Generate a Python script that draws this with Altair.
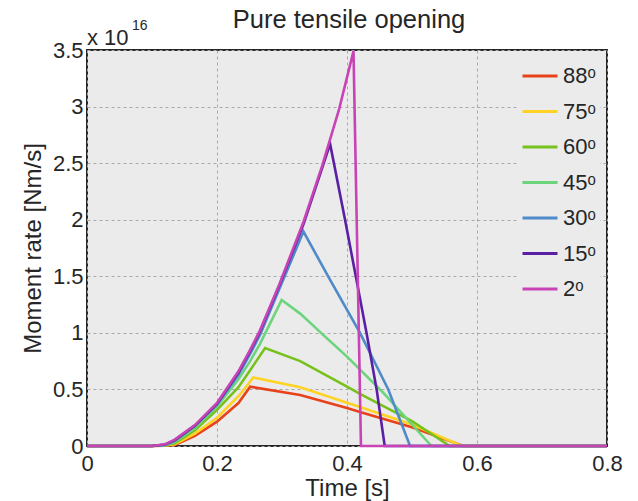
import altair as alt
import pandas as pd

FONT = "Liberation Sans"
TXT = "#262626"

LABELS = ["88ᵒ", "75ᵒ", "60ᵒ", "45ᵒ", "30ᵒ", "15ᵒ", "2ᵒ"]
COLORS = ["#E8421B", "#FFD324", "#77C11D", "#6CD47C", "#4F8AC9", "#5A1FA2", "#C843B5"]

T88 = [0, 0.10, 0.12, 0.135, 0.166, 0.20, 0.233, 0.251, 0.328, 0.40, 0.42, 0.50, 0.579, 0.8]
Y88 = [0, 0, 0.003, 0.01, 0.09, 0.215, 0.38, 0.524, 0.45, 0.335, 0.30, 0.165, 0, 0]

T75 = [0, 0.10, 0.12, 0.135, 0.166, 0.20, 0.233, 0.256, 0.328, 0.40, 0.42, 0.50, 0.577, 0.8]
Y75 = [0, 0, 0.004, 0.015, 0.11, 0.25, 0.44, 0.605, 0.52, 0.383, 0.345, 0.19, 0, 0]

T60 = [0, 0.10, 0.12, 0.135, 0.166, 0.20, 0.233, 0.251, 0.274, 0.328, 0.40, 0.42, 0.50, 0.558, 0.8]
Y60 = [0, 0, 0.006, 0.025, 0.14, 0.32, 0.52, 0.67, 0.866, 0.75, 0.524, 0.46, 0.22, 0, 0]

T45 = [0, 0.10, 0.12, 0.135, 0.166, 0.20, 0.233, 0.251, 0.266, 0.2995, 0.328, 0.36, 0.40, 0.456, 0.53, 0.8]
Y45 = [0, 0, 0.008, 0.035, 0.16, 0.35, 0.59, 0.75, 0.90, 1.29, 1.17, 1.0, 0.79, 0.47, 0, 0]

T30 = [0, 0.10, 0.12, 0.135, 0.166, 0.20, 0.233, 0.251, 0.266, 0.296, 0.333, 0.371, 0.42, 0.4635, 0.497, 0.8]
Y30 = [0, 0, 0.01, 0.045, 0.18, 0.365, 0.63, 0.815, 0.98, 1.39, 1.895, 1.5, 1.0, 0.5, 0, 0]

T15 = [0, 0.10, 0.12, 0.135, 0.166, 0.20, 0.233, 0.251, 0.266, 0.296, 0.333, 0.362, 0.374, 0.397, 0.43, 0.4456, 0.458, 0.8]
Y15 = [0, 0, 0.013, 0.052, 0.18, 0.375, 0.65, 0.84, 1.01, 1.42, 1.96, 2.46, 2.67, 2.0, 1.0, 0.5, 0, 0]

T2 = [0, 0.10, 0.12, 0.135, 0.166, 0.20, 0.233, 0.251, 0.266, 0.296, 0.333, 0.362, 0.388, 0.41, 0.4215, 0.8]
Y2 = [0, 0, 0.015, 0.056, 0.185, 0.38, 0.66, 0.85, 1.02, 1.43, 1.98, 2.48, 2.98, 3.49, 0, 0]

X_TICKS = [0, 0.2, 0.4, 0.6, 0.8]
Y_TICKS = [0, 0.5, 1, 1.5, 2, 2.5, 3, 3.5]

TITLE = "Pure tensile opening"
MULT = "x 10"
EXPO = "16"

series = [(LABELS[0], T88, Y88), (LABELS[1], T75, Y75), (LABELS[2], T60, Y60),
          (LABELS[3], T45, Y45), (LABELS[4], T30, Y30), (LABELS[5], T15, Y15),
          (LABELS[6], T2, Y2)]
rows = []
for k, (lab, ts, ys) in enumerate(series):
    for j, (t, y) in enumerate(zip(ts, ys)):
        rows.append({"angle": lab, "t": t, "m": y, "j": j, "k": k})
df = pd.DataFrame(rows)

lines = alt.Chart(df).mark_line(strokeWidth=2.6).encode(
    x=alt.X("t:Q", scale=alt.Scale(domain=[0, 0.8], nice=False, zero=False),
            axis=alt.Axis(values=X_TICKS, format="~g", title="Time [s]", labelFlush=False,
                          labelPadding=7, titleY=49, titleBaseline="alphabetic")),
    y=alt.Y("m:Q", scale=alt.Scale(domain=[0, 3.5], nice=False),
            axis=alt.Axis(values=Y_TICKS, format="~g", title="Moment rate [Nm/s]",
                          labelFlush=False, labelPadding=4, titleX=-47,
                          titleBaseline="alphabetic")),
    color=alt.Color("angle:N", sort=LABELS,
                    scale=alt.Scale(domain=LABELS, range=COLORS),
                    legend=alt.Legend(title=None, orient="none", legendX=430, legendY=3,
                                      symbolType="stroke", symbolSize=1225,
                                      symbolStrokeWidth=3, labelFontSize=22, labelFont=FONT,
                                      labelColor=TXT, labelOffset=4, rowPadding=5.5,
                                      fillColor="#EBEBEB", padding=4)),
    order=alt.Order("j:Q"),
)

title = alt.Chart(pd.DataFrame({"s": [TITLE]})).mark_text(
    align="center", baseline="alphabetic", fontSize=25.5, font=FONT, color=TXT
).encode(x=alt.value(262), y=alt.value(-22), text="s:N")

mult = alt.Chart(pd.DataFrame({"s": [MULT]})).mark_text(
    align="left", baseline="alphabetic", fontSize=22, font=FONT, color=TXT
).encode(x=alt.value(0), y=alt.value(-5), text="s:N")

expo = alt.Chart(pd.DataFrame({"s": [EXPO]})).mark_text(
    align="left", baseline="alphabetic", fontSize=14, font=FONT, color=TXT
).encode(x=alt.value(45), y=alt.value(-20), text="s:N")

chart = alt.layer(lines, title, mult, expo).properties(
    width=520, height=396,
    autosize=alt.AutoSizeParams(type="none"),
    padding={"left": 87, "top": 50, "right": 31, "bottom": 55},
    background="white",
).configure_view(
    stroke="#262626", strokeWidth=2, fill="#EBEBEB"
).configure_axis(
    labelFont=FONT, titleFont=FONT, labelFontSize=22, titleFontSize=24,
    labelColor=TXT, titleColor=TXT, titleFontWeight="normal",
    domain=False, ticks=False, tickSize=0,
    grid=True, gridDash=[3, 3], gridColor="#A8A8A8", gridWidth=1,
)

chart.save("out.html", embed_options={"renderer": "svg", "actions": False})
